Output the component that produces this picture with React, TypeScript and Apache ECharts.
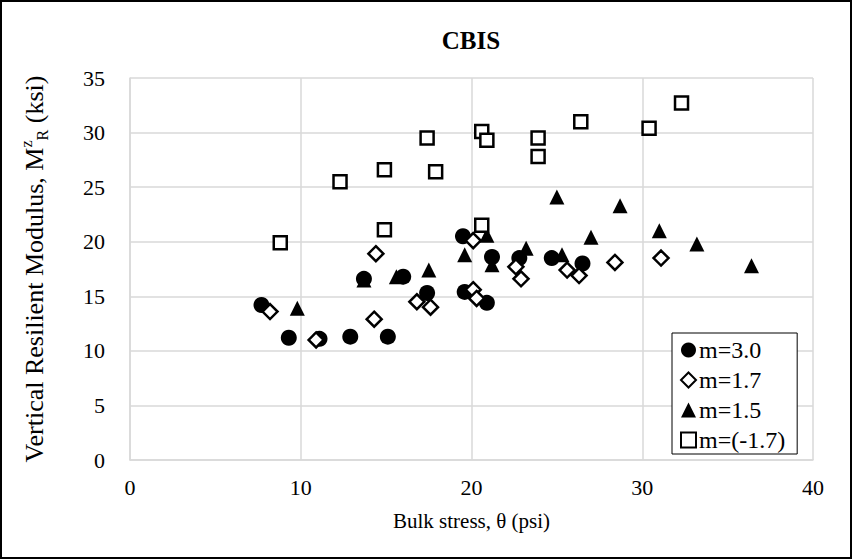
import React, { useEffect, useRef } from "react";
import * as echarts from "echarts";

const FONT = "Liberation Serif";

const xTicks = [0, 10, 20, 30, 40];
const yTicks = [0, 5, 10, 15, 20, 25, 30, 35];

const seriesNames = ["m=3.0", "m=1.7", "m=1.5", "m=(-1.7)"];

const m30: number[][] = [
  [7.7, 14.2], [9.3, 11.2], [11.1, 11.1], [12.9, 11.3], [15.1, 11.3],
  [13.7, 16.6], [16.0, 16.8], [17.4, 15.3], [19.5, 20.5], [19.6, 15.4],
  [20.9, 14.4], [21.2, 18.6], [22.8, 18.5], [24.7, 18.5], [26.5, 18.0],
];

const m17: number[][] = [
  [8.2, 13.6], [10.9, 11.0], [14.4, 18.9], [14.3, 12.9], [16.8, 14.5],
  [17.6, 14.0], [20.1, 20.1], [20.1, 15.6], [20.3, 14.8], [22.6, 17.7],
  [22.9, 16.6], [25.6, 17.4], [26.3, 16.9], [28.4, 18.1], [31.1, 18.5],
];

const m15: number[][] = [
  [9.8, 13.9], [13.7, 16.5], [15.6, 16.8], [17.5, 17.4], [19.6, 18.8],
  [20.9, 20.6], [21.2, 17.9], [23.2, 19.4], [25.3, 18.8], [25.0, 24.1],
  [27.0, 20.4], [28.7, 23.3], [31.0, 21.0], [33.2, 19.8], [36.4, 17.8],
];

const mNeg17: number[][] = [
  [8.8, 19.9], [12.3, 25.5], [14.9, 26.6], [14.9, 21.1], [17.4, 29.5],
  [17.9, 26.4], [20.6, 30.1], [20.9, 29.3], [20.6, 21.5], [23.9, 29.5],
  [23.9, 27.8], [26.4, 31.0], [30.4, 30.4], [32.3, 32.7],
];

export default function App() {
  const ref = useRef<HTMLDivElement>(null);

  useEffect(() => {
    if (!ref.current) return;
    const chart = echarts.init(ref.current, null, { renderer: "svg" });
    const grid = "#d9d9d9";
    const solid = { color: "#000", opacity: 1 };
    const hollow = { color: "#fff", borderColor: "#000", borderWidth: 2.5, opacity: 1 };

    chart.setOption({
      animation: false,
      backgroundColor: "#fff",
      textStyle: { fontFamily: FONT, color: "#000" },
      graphic: [
        {
          type: "rect",
          shape: { x: 1, y: 1, width: 850, height: 557 },
          style: { fill: "none", stroke: "#000", lineWidth: 2 },
          silent: true,
        },
        {
          type: "text",
          x: 471,
          y: 40,
          style: {
            text: "CBIS",
            fontFamily: FONT,
            fontSize: 25,
            fontWeight: "bold",
            fill: "#000",
            align: "center",
            verticalAlign: "middle",
          },
        },
      ],
      grid: { left: 130, top: 78, right: 40, bottom: 100, containLabel: false },
      xAxis: {
        type: "value",
        min: xTicks[0],
        max: xTicks[xTicks.length - 1],
        interval: 10,
        name: "Bulk stress, θ (psi)",
        nameLocation: "middle",
        nameGap: 50,
        nameTextStyle: { fontFamily: FONT, fontSize: 21, color: "#000" },
        axisLine: { show: true, lineStyle: { color: grid, width: 1.5 } },
        axisTick: { show: false },
        axisLabel: { fontFamily: FONT, fontSize: 22, color: "#000", margin: 16 },
        splitLine: { show: true, lineStyle: { color: grid, width: 1.5 } },
      },
      yAxis: {
        type: "value",
        min: yTicks[0],
        max: yTicks[yTicks.length - 1],
        interval: 5,
        name: "Vertical Resilient Modulus, M{sup|z}{sub|R} (ksi)",
        nameLocation: "middle",
        nameGap: 80,
        nameRotate: 90,
        nameTextStyle: {
          fontFamily: FONT,
          fontSize: 26,
          color: "#000",
          lineHeight: 32,
          rich: {
            sup: { fontFamily: FONT, fontSize: 16, color: "#000", verticalAlign: "top", lineHeight: 32 },
            sub: { fontFamily: FONT, fontSize: 16, color: "#000", verticalAlign: "bottom", lineHeight: 32 },
          },
        },
        axisLine: { show: true, lineStyle: { color: grid, width: 1.5 } },
        axisTick: { show: false },
        axisLabel: { fontFamily: FONT, fontSize: 22, color: "#000", margin: 25 },
        splitLine: { show: true, lineStyle: { color: grid, width: 1.5 } },
      },
      legend: {
        orient: "vertical",
        left: 672,
        top: 333,
        padding: [5, 12, 2, 8],
        itemGap: 6,
        itemWidth: 15,
        itemHeight: 15,
        backgroundColor: "#fff",
        borderColor: "#000",
        borderWidth: 1,
        borderRadius: 0,
        textStyle: { fontFamily: FONT, fontSize: 24, color: "#000", lineHeight: 22, padding: [0, 0, 0, -2] },
        data: seriesNames,
      },
      series: [
        { name: seriesNames[0], type: "scatter", data: m30, symbol: "circle", symbolSize: 16, itemStyle: solid },
        { name: seriesNames[1], type: "scatter", data: m17, symbol: "diamond", symbolSize: 15, itemStyle: hollow },
        { name: seriesNames[2], type: "scatter", data: m15, symbol: "triangle", symbolSize: 15, itemStyle: solid },
        { name: seriesNames[3], type: "scatter", data: mNeg17, symbol: "rect", symbolSize: 13, itemStyle: hollow },
      ],
    });

    return () => chart.dispose();
  }, []);

  return (
    <div
      ref={ref}
      style={{ position: "fixed", left: 0, top: 0, width: 853, height: 560 }}
    />
  );
}
